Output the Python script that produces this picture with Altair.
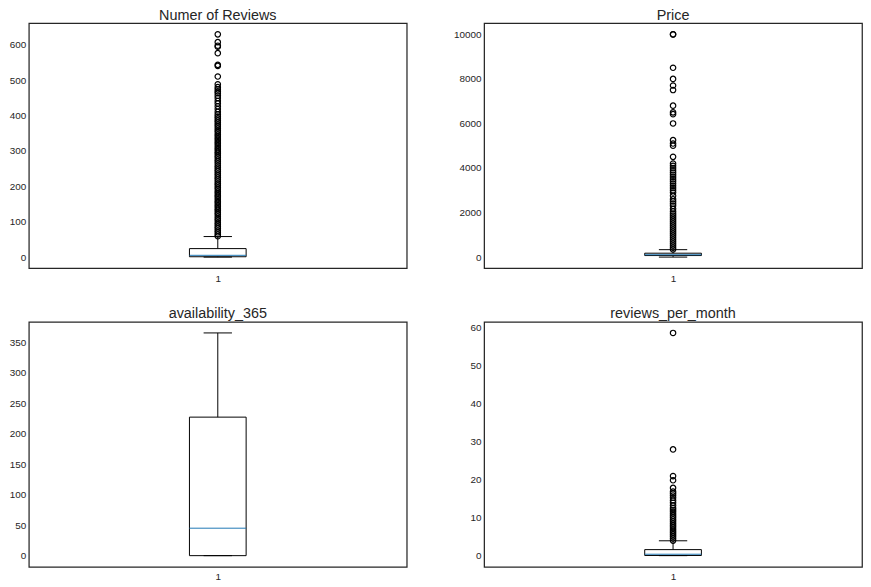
import altair as alt
import pandas as pd

titles = ["Numer of Reviews", "Price", "availability_365", "reviews_per_month"]

# box statistics: lower whisker, q1, median, q3, upper whisker
reviews_stats = [0, 1, 5, 24, 58]
price_stats = [0, 69, 106, 175, 334]
avail_stats = [0, 0, 45, 227, 365]
rpm_stats = [0, 0.04, 0.37, 1.58, 3.9]

# outliers (dense columns are many overlapping points)
reviews_outliers = [59, 64, 70, 75, 81, 86, 92, 97, 103, 108, 114, 120, 125, 131, 136,
                    142, 147, 153, 158, 164, 170, 175, 181, 186, 192, 197, 203, 208, 214,
                    220, 225, 231, 236, 242, 247, 253, 258, 264, 270, 275, 281, 286, 292,
                    297, 303, 308, 314, 320, 325, 331, 336, 342, 347, 353, 358, 364, 370,
                    375, 381, 386, 392, 397, 403, 410, 418, 426, 434, 441, 449, 456, 463,
                    468, 474, 480, 488, 510, 540, 543, 576, 594, 597, 607, 629]
price_outliers = [340, 420, 510, 600, 690, 780, 870, 960, 1050, 1140, 1230, 1320, 1410,
                  1500, 1590, 1680, 1770, 1860, 1950, 2050, 2170, 2300, 2400, 2500, 2600,
                  2750, 2900, 3000, 3100, 3200, 3300, 3400, 3500, 3600, 3700, 3800, 3900,
                  4000, 4100, 4200, 4500, 5000, 5100, 5250, 6000, 6419, 6500, 6800, 7500,
                  7703, 8000, 8500, 9999, 10000]
avail_outliers = []
rpm_outliers = [3.95, 4.5, 5.0, 5.5, 6.0, 6.5, 7.0, 7.5, 8.0, 8.5, 9.0, 9.5, 10.0, 10.5,
                11.0, 11.5, 12.0, 12.5, 13.2, 13.9, 14.5, 15.2, 15.8, 16.3, 16.8, 17.8,
                19.8, 20.9, 27.9, 58.5]

reviews_domain = [-31.45, 660.45]
price_domain = [-500, 10500]
avail_domain = [-18.25, 383.25]
rpm_domain = [-2.93, 61.43]

reviews_ticks = [0, 100, 200, 300, 400, 500, 600]
price_ticks = [0, 2000, 4000, 6000, 8000, 10000]
avail_ticks = [0, 50, 100, 150, 200, 250, 300, 350]
rpm_ticks = [0, 10, 20, 30, 40, 50, 60]

FONT = "Liberation Sans"
DARK = "#262626"
MEDIAN = "#1f77b4"


def panel(title, stats, outliers, domain, ticks, extent):
    lo, q1, med, q3, hi = stats
    box_df = pd.DataFrame({"pos": [1], "lo": [lo], "q1": [q1], "med": [med],
                           "q3": [q3], "hi": [hi]})
    xs = alt.Scale(domain=[0.5, 1.5], nice=False, zero=False)
    ys = alt.Scale(domain=domain, nice=False, zero=False)
    xaxis = alt.Axis(values=[1], title=None, ticks=False, domain=False, grid=False,
                     labelPadding=5, format="d")
    yaxis = alt.Axis(values=ticks, title=None, ticks=False, domain=False, grid=False,
                     labelPadding=3, minExtent=extent, maxExtent=extent, format="d")
    base = alt.Chart(box_df).transform_calculate(
        x0="datum.pos - 0.075", x1="datum.pos + 0.075",
        c0="datum.pos - 0.0375", c1="datum.pos + 0.0375")
    whisk_lo = base.mark_rule(color="black", strokeWidth=1).encode(
        x=alt.X("pos:Q", scale=xs, axis=xaxis),
        y=alt.Y("lo:Q", scale=ys, axis=yaxis), y2="q1:Q")
    whisk_hi = base.mark_rule(color="black", strokeWidth=1).encode(
        x=alt.X("pos:Q", scale=xs, axis=xaxis),
        y=alt.Y("q3:Q", scale=ys, axis=yaxis), y2="hi:Q")
    cap_lo = base.mark_rule(color="black", strokeWidth=1).encode(
        x=alt.X("c0:Q", scale=xs, axis=xaxis), x2="c1:Q",
        y=alt.Y("lo:Q", scale=ys, axis=yaxis))
    cap_hi = base.mark_rule(color="black", strokeWidth=1).encode(
        x=alt.X("c0:Q", scale=xs, axis=xaxis), x2="c1:Q",
        y=alt.Y("hi:Q", scale=ys, axis=yaxis))
    box = base.mark_rect(fill="white", fillOpacity=0, stroke="black", strokeWidth=1).encode(
        x=alt.X("x0:Q", scale=xs, axis=xaxis), x2="x1:Q",
        y=alt.Y("q1:Q", scale=ys, axis=yaxis), y2="q3:Q")
    median = base.mark_rule(color=MEDIAN, strokeWidth=1).encode(
        x=alt.X("x0:Q", scale=xs, axis=xaxis), x2="x1:Q",
        y=alt.Y("med:Q", scale=ys, axis=yaxis))
    layers = [whisk_lo, whisk_hi, cap_lo, cap_hi, box, median]
    if outliers:
        out_df = pd.DataFrame({"pos": [1] * len(outliers), "v": outliers})
        pts = alt.Chart(out_df).mark_point(shape="circle", filled=False, size=30,
                                           color="black", strokeWidth=1.2,
                                           opacity=1).encode(
            x=alt.X("pos:Q", scale=xs, axis=xaxis),
            y=alt.Y("v:Q", scale=ys, axis=yaxis))
        layers.append(pts)
    return alt.layer(*layers).properties(
        width=381, height=247,
        title=alt.TitleParams(title, fontSize=14.5, font=FONT, color=DARK,
                              fontWeight="normal", offset=0, anchor="middle"))


p1 = panel(titles[0], reviews_stats, reviews_outliers, reviews_domain, reviews_ticks, 19)
p2 = panel(titles[1], price_stats, price_outliers, price_domain, price_ticks, 32)
p3 = panel(titles[2], avail_stats, avail_outliers, avail_domain, avail_ticks, 19)
p4 = panel(titles[3], rpm_stats, rpm_outliers, rpm_domain, rpm_ticks, 32)

chart = alt.vconcat(
    alt.hconcat(p1, p2, spacing=44),
    alt.hconcat(p3, p4, spacing=44),
    spacing=21,
).properties(
    padding={"left": 0, "top": -4, "right": 0, "bottom": 0}, background="white"
).configure_view(
    stroke=DARK, strokeWidth=1.25
).configure_axis(
    labelFont=FONT, labelFontSize=10, labelColor=DARK
)

chart.save("out.html", embed_options={"renderer": "svg", "actions": False})
